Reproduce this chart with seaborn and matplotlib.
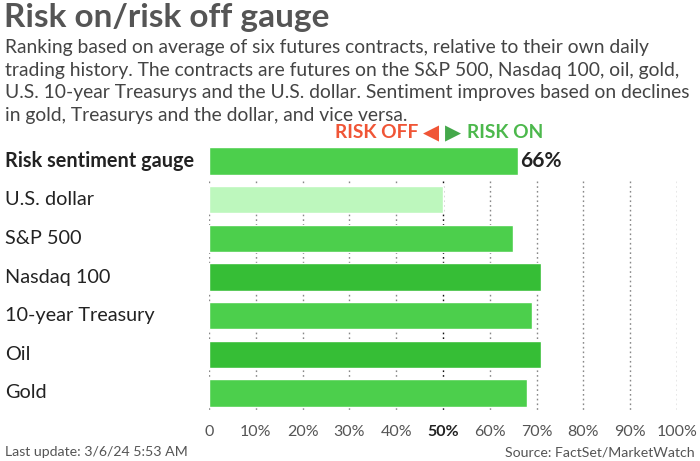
import matplotlib
matplotlib.use("Agg")
import matplotlib.pyplot as plt
import matplotlib.transforms as mtransforms
import seaborn as sns
import pandas as pd

sns.set_theme(style="white")
plt.rcParams['font.family'] = ['Lato', 'DejaVu Sans']

# data
categories = ["Risk sentiment gauge", "U.S. dollar", "S&P 500", "Nasdaq 100",
              "10-year Treasury", "Oil", "Gold"]
values = [66, 50, 65, 71, 69, 71, 68]
bar_colors = ["#4ccf4c", "#bdf7bd", "#4ccf4c", "#36be36", "#4ccf4c", "#36be36", "#4ccf4c"]
xticks = [0, 10, 20, 30, 40, 50, 60, 70, 80, 90, 100]
xtick_labels = ["0", "10%", "20%", "30%", "40%", "50%", "60%", "70%", "80%", "90%", "100%"]

df = pd.DataFrame({"name": categories, "value": values})

fig = plt.figure(figsize=(7, 4.61), dpi=100)
ax = fig.add_axes([209/700, 1 - 412.3/461, 468/700, (412.3 - 141.7)/461])

# dotted gridlines (drawn under the bars, not through the top row)
for t in xticks:
    ax.vlines(t, 0.52, 6.5, colors="#111111" if t == 50 else "#888888",
              linestyles=(0, (1.2, 2.2)), lw=1, zorder=0)

sns.barplot(data=df, x="value", y="name", hue="name", palette=bar_colors,
            legend=False, width=0.7, ax=ax, saturation=1, zorder=2)

ax.set_xlim(0, 100)
ax.set_ylim(6.5, -0.5)
ax.set_xlabel("")
ax.set_ylabel("")
ax.set_yticks([])
ax.set_xticks(xticks)
ax.set_xticklabels(xtick_labels, fontsize=11.5, color="#555555")
for lab in ax.get_xticklabels():
    if lab.get_text() == "50%":
        lab.set_fontweight("bold")
        lab.set_color("#222222")
ax.tick_params(axis="x", length=0, pad=9)
for s in ax.spines.values():
    s.set_visible(False)

# category labels, left aligned at the figure edge
trans = mtransforms.blended_transform_factory(fig.transFigure, ax.transData)
for i, name in enumerate(categories):
    ax.text(5/700, i, name, transform=trans, ha="left", va="center",
            fontsize=14.3, color="#222222",
            fontweight="bold" if i == 0 else "normal")

# value label for the gauge
ax.text(values[0] + 0.4, 0, f"{values[0]}%", ha="left", va="center",
        fontsize=15, fontweight="bold", color="#222222")

# header
fig.text(4/700, 1 - 3/461, "Risk on/risk off gauge", ha="left", va="top",
         fontsize=24, fontweight="bold", color="#555555")
sub = ("Ranking based on average of six futures contracts, relative to their own daily\n"
       "trading history. The contracts are futures on the S&P 500, Nasdaq 100, oil, gold,\n"
       "U.S. 10-year Treasurys and the U.S. dollar. Sentiment improves based on declines\n"
       "in gold, Treasurys and the dollar, and vice versa.")
fig.text(5/700, 1 - 39/461, sub, ha="left", va="top", fontsize=13.85,
         color="#444444", linespacing=1.41)

# risk off / risk on marker
fig.text(418/700, 1 - 133/461, "RISK OFF", ha="right", va="center",
         fontsize=13.8, fontweight="bold", color="#f05536")
fig.text(431/700, 1 - 133/461, "\u25C0", ha="center", va="center",
         fontsize=15, color="#f05536")
fig.text(453/700, 1 - 133/461, "\u25B6", ha="center", va="center",
         fontsize=15, color="#44a84a")
fig.text(467/700, 1 - 133/461, "RISK ON", ha="left", va="center",
         fontsize=13.8, fontweight="bold", color="#4cb84c")

# footer
fig.text(5/700, 1 - 452/461, "Last update: 3/6/24 5:53 AM", ha="left", va="center",
         fontsize=10.2, color="#555555")
fig.text(695/700, 1 - 452/461, "Source: FactSet/MarketWatch", ha="right", va="center",
         fontsize=10.2, color="#555555")

fig.savefig("out.png", dpi=100)
